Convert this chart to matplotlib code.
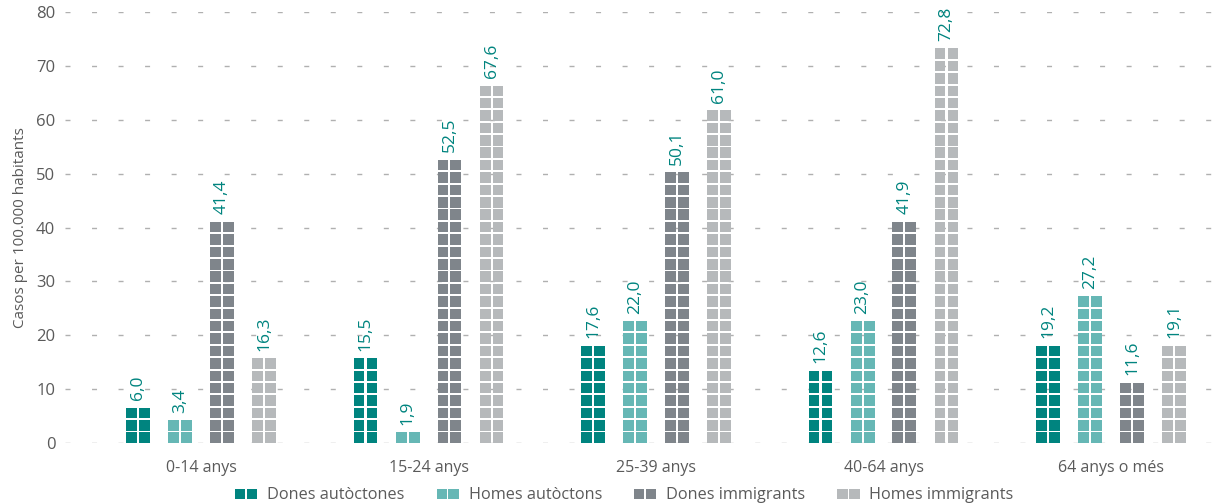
import math
import matplotlib
matplotlib.use("Agg")
import matplotlib.pyplot as plt
from matplotlib.legend_handler import HandlerBase
from matplotlib.patches import Rectangle

# -----------------------------
# Data
# -----------------------------
categories = ["0-14 anys", "15-24 anys", "25-39 anys", "40-64 anys", "64 anys o més"]
series_names = ["Dones autòctones", "Homes autòctons", "Dones immigrants", "Homes immigrants"]
dones_autoctones = [6.0, 15.5, 17.6, 12.6, 19.2]
homes_autoctons = [3.4, 1.9, 22.0, 23.0, 27.2]
dones_immigrants = [41.4, 52.5, 50.1, 41.9, 11.6]
homes_immigrants = [16.3, 67.6, 61.0, 72.8, 19.1]
y_ticks = [0, 10, 20, 30, 40, 50, 60, 70, 80]

series = [dones_autoctones, homes_autoctons, dones_immigrants, homes_immigrants]
colors = ["#00847f", "#66b7b5", "#7f858b", "#b6b9bb"]
label_color = "#00847f"
text_grey = "#5a5a5a"

plt.rcParams["font.family"] = ["Open Sans", "DejaVu Sans"]

# -----------------------------
# Figure
# -----------------------------
fig = plt.figure(figsize=(12.22, 5.04), dpi=100)
ax = fig.add_axes([65 / 1222, 61 / 504, (1212 - 65) / 1222, 431 / 504])

pitch = 2.3        # value units per square row
sq_h = 1.95        # square height (rest is white gap)
offsets = [-0.277, -0.092, 0.092, 0.277]
col_w = 0.048
col_gap = 0.009

for s, vals in enumerate(series):
    for g, v in enumerate(vals):
        n = max(1, round(v / pitch + 0.05))
        xc = g + offsets[s]
        xs, bottoms = [], []
        for i in range(n):
            for c in (-1, 1):
                xs.append(xc + c * (col_w + col_gap) / 2)
                bottoms.append(i * pitch)
        ax.bar(xs, [sq_h] * len(xs), width=col_w, bottom=bottoms,
               color=colors[s], linewidth=0, zorder=3)
        ax.annotate(f"{v:.1f}".replace(".", ","), (xc, n * pitch),
                    xytext=(0, 4), textcoords="offset points",
                    rotation=90, ha="center", va="bottom",
                    fontsize=12.5, color=label_color, zorder=4)

ax.set_xlim(-0.598, 4.444)
ax.set_ylim(0, 80)
ax.set_yticks(y_ticks)
ax.set_xticks(range(len(categories)))
ax.set_xticklabels(categories)
ax.tick_params(axis="y", length=0, pad=7, labelsize=12, labelcolor=text_grey)
ax.tick_params(axis="x", length=0, pad=12, labelsize=11.5, labelcolor=text_grey)
for sp in ax.spines.values():
    sp.set_visible(False)
ax.yaxis.grid(True, color="#b0b0b0", linewidth=1.0, linestyle=(0, (3.6, 15.5)), zorder=0)
ax.set_axisbelow(True)
ax.set_ylabel("Casos per 100.000 habitants", fontsize=11, color=text_grey, labelpad=6)


# legend icon: two small squares side by side
class TwoSquares(HandlerBase):
    def create_artists(self, legend, orig_handle, xdescent, ydescent,
                       width, height, fontsize, trans):
        size = 7.4
        gap = 1.2
        y0 = (height - size) / 2 - ydescent
        arts = []
        for k in range(2):
            r = Rectangle((width - 2 * size - gap + k * (size + gap), y0), size, size,
                          facecolor=orig_handle.get_facecolor(), linewidth=0,
                          transform=trans)
            arts.append(r)
        return arts


handles = [Rectangle((0, 0), 1, 1, facecolor=c) for c in colors]
leg = fig.legend(handles, series_names, loc="lower center", bbox_to_anchor=(0.511, -0.028),
                 ncol=4, frameon=False, fontsize=11.7, labelcolor=text_grey,
                 handler_map={Rectangle: TwoSquares()}, handlelength=1.35,
                 handletextpad=0.6, columnspacing=2.0)

fig.savefig("out.png", dpi=100)
